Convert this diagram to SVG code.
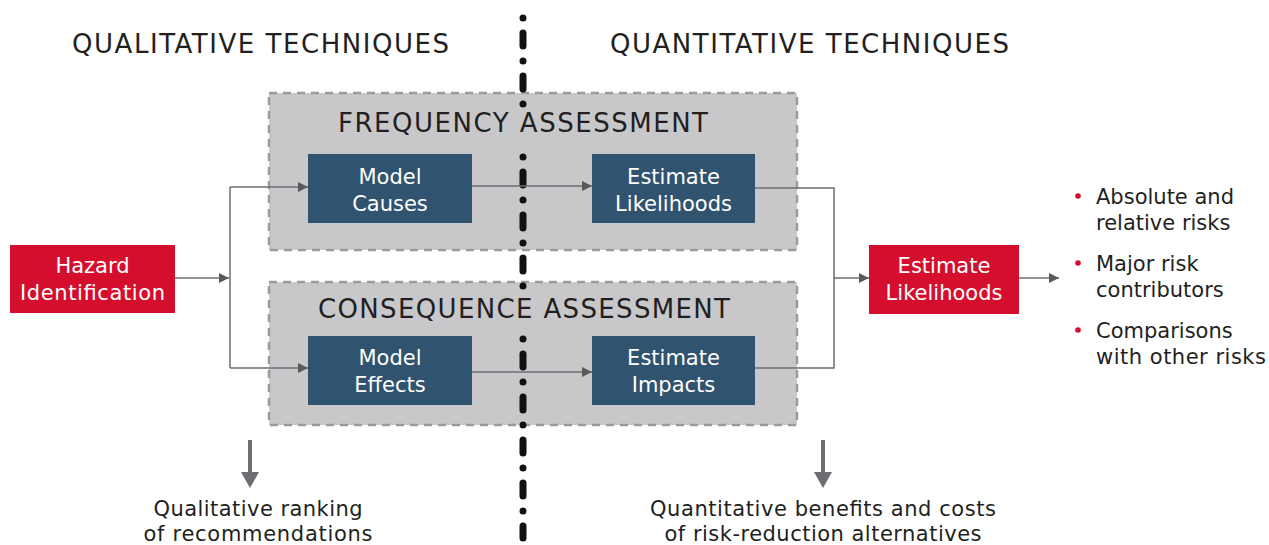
<svg xmlns="http://www.w3.org/2000/svg" width="1269" height="545" viewBox="0 0 1269 545">
<style>
text{font-family:"DejaVu Sans","Liberation Sans",sans-serif;}
.h{font-size:26px;fill:#231f20;text-anchor:middle;}
.sh{font-size:26px;fill:#231f20;text-anchor:middle;}
.bl{font-size:21px;fill:#ffffff;text-anchor:middle;}
.bt{font-size:21px;fill:#231f20;}
.ct{font-size:21px;fill:#231f20;text-anchor:middle;}
.grp{fill:#c8c8ca;stroke:#9a9a9c;stroke-width:2.5;stroke-dasharray:8 6;}
.blue{fill:#30536f;}
.red{fill:#d50e2e;}
.con{fill:none;stroke:#6d6e71;stroke-width:1.5;}
.div{fill:none;stroke:#111;stroke-width:7;stroke-linecap:round;stroke-dasharray:0 15 13 15;}
</style>
<defs>
<marker id="ah" viewBox="0 0 10 10" refX="10" refY="5" markerWidth="10" markerHeight="10" markerUnits="userSpaceOnUse" orient="auto">
<path d="M0,0 L10,5 L0,10 Z" fill="#58595b"/>
</marker>
</defs>
<g id="headings">
<text class="h" x="260.5" y="53" textLength="377" lengthAdjust="spacing">QUALITATIVE TECHNIQUES</text>
<text class="h" x="809.5" y="53" textLength="399" lengthAdjust="spacing">QUANTITATIVE TECHNIQUES</text>
</g>
<g id="frequency-assessment">
<rect class="grp" x="269" y="93" width="528" height="157"/>
</g>
<g id="consequence-assessment">
<rect class="grp" x="269" y="282" width="528" height="143"/>
</g>
<g id="divider">
<path class="div" d="M523,18 V105"/>
<path class="div" d="M523,157 V288"/>
<path class="div" d="M523,339 V538"/>
</g>
<g id="group-labels">
<text class="sh" x="523" y="132" textLength="370" lengthAdjust="spacing">FREQUENCY ASSESSMENT</text>
<text class="sh" x="524" y="318" textLength="412" lengthAdjust="spacing">CONSEQUENCE ASSESSMENT</text>
</g>
<g id="connectors">
<path class="con" d="M175,278 H229" marker-end="url(#ah)"/>
<path class="con" d="M230,187 V368"/>
<path class="con" d="M230,187 H308" marker-end="url(#ah)"/>
<path class="con" d="M230,368 H308" marker-end="url(#ah)"/>
<path class="con" d="M472,186 H592" marker-end="url(#ah)"/>
<path class="con" d="M472,372 H592" marker-end="url(#ah)"/>
<path class="con" d="M755,188 H834 V368 H755"/>
<path class="con" d="M834,278 H869" marker-end="url(#ah)"/>
<path class="con" d="M1019,278 H1059" marker-end="url(#ah)"/>
</g>
<g id="hazard-identification">
<rect class="red" x="10" y="245" width="165" height="68"/>
<text class="bl" x="92.5" y="273">Hazard</text>
<text class="bl" x="92.5" y="300" textLength="145" lengthAdjust="spacing">Identification</text>
</g>
<g id="model-causes">
<rect class="blue" x="308" y="154" width="164" height="69"/>
<text class="bl" x="390" y="184">Model</text>
<text class="bl" x="390" y="211">Causes</text>
</g>
<g id="estimate-likelihoods-freq">
<rect class="blue" x="592" y="154" width="163" height="69"/>
<text class="bl" x="673.5" y="184">Estimate</text>
<text class="bl" x="673.5" y="211">Likelihoods</text>
</g>
<g id="model-effects">
<rect class="blue" x="308" y="336" width="164" height="69"/>
<text class="bl" x="390" y="365">Model</text>
<text class="bl" x="390" y="392">Effects</text>
</g>
<g id="estimate-impacts">
<rect class="blue" x="592" y="336" width="163" height="69"/>
<text class="bl" x="673.5" y="365">Estimate</text>
<text class="bl" x="673.5" y="392">Impacts</text>
</g>
<g id="estimate-likelihoods">
<rect class="red" x="869" y="245" width="150" height="69"/>
<text class="bl" x="944" y="273">Estimate</text>
<text class="bl" x="944" y="300">Likelihoods</text>
</g>
<g id="outcomes">
<circle cx="1078" cy="196" r="2.8" fill="#d50e2e"/>
<text class="bt" x="1096" y="204">Absolute and</text>
<text class="bt" x="1096" y="230">relative risks</text>
<circle cx="1078" cy="263" r="2.8" fill="#d50e2e"/>
<text class="bt" x="1096" y="271">Major risk</text>
<text class="bt" x="1096" y="297">contributors</text>
<circle cx="1078" cy="330" r="2.8" fill="#d50e2e"/>
<text class="bt" x="1096" y="338">Comparisons</text>
<text class="bt" x="1096" y="364" textLength="170" lengthAdjust="spacing">with other risks</text>
</g>
<g id="qualitative-result">
<path d="M250,440 V474" stroke="#6d6e71" stroke-width="4" fill="none"/>
<path d="M241,472 L259,472 L250,488 Z" fill="#6d6e71"/>
<text class="ct" x="258" y="516" textLength="209" lengthAdjust="spacing">Qualitative ranking</text>
<text class="ct" x="258" y="541" textLength="229" lengthAdjust="spacing">of recommendations</text>
</g>
<g id="quantitative-result">
<path d="M823,440 V474" stroke="#6d6e71" stroke-width="4" fill="none"/>
<path d="M814,472 L832,472 L823,488 Z" fill="#6d6e71"/>
<text class="ct" x="823" y="516" textLength="346" lengthAdjust="spacing">Quantitative benefits and costs</text>
<text class="ct" x="823" y="541" textLength="317" lengthAdjust="spacing">of risk-reduction alternatives</text>
</g>
</svg>
